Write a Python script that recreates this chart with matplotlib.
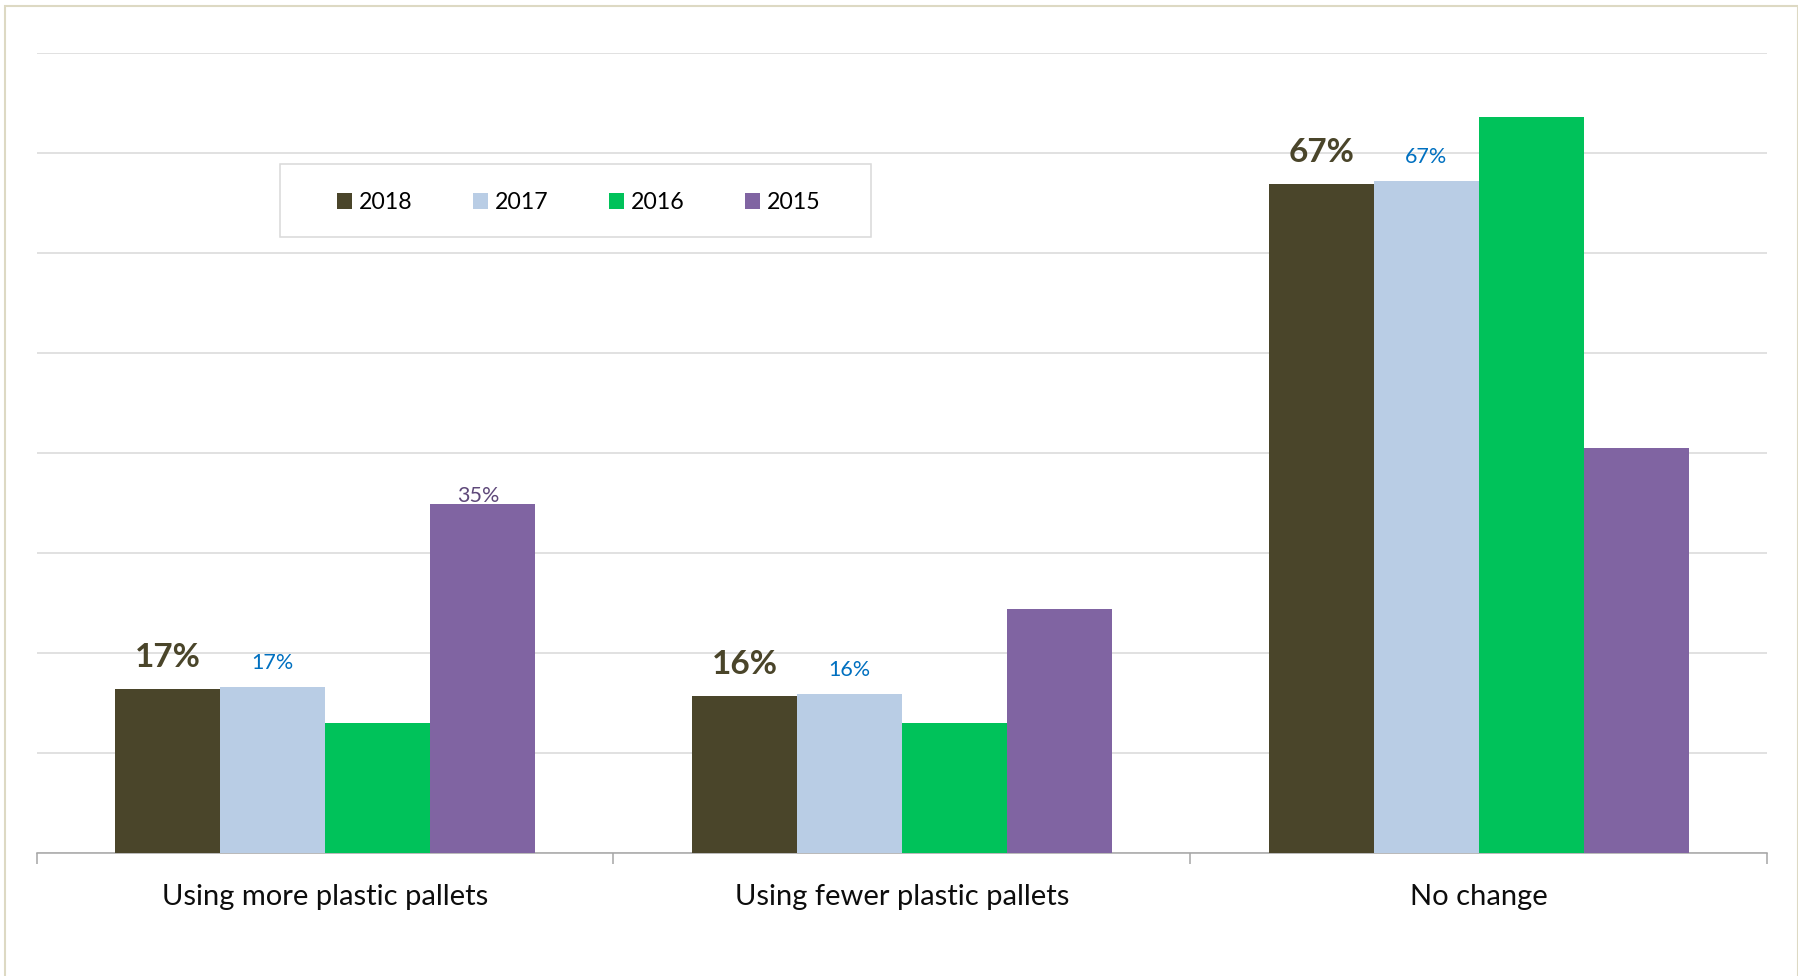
import matplotlib.pyplot as plt
import numpy as np
from matplotlib.patches import Rectangle

plt.rcParams['font.family'] = ['Lato', 'DejaVu Sans']

categories = ["Using more plastic pallets", "Using fewer plastic pallets", "No change"]
years      = ["2018", "2017", "2016", "2015"]

v2018 = [16.4, 15.7, 66.9]
v2017 = [16.6, 15.9, 67.2]
v2016 = [13.0, 13.0, 73.6]
v2015 = [34.9, 24.4, 40.5]

labels2018 = ["17%", "16%", "67%"]
labels2017 = ["17%", "16%", "67%"]
labels2015 = ["35%", "", ""]

COLORS = ["#4a452a", "#b9cde5", "#00c25a", "#8064a2"]

W, H, DPI = 1799, 976, 100
fig = plt.figure(figsize=(W / DPI, H / DPI), dpi=DPI)
fig.patch.set_facecolor("white")

# outer frame
fig.add_artist(Rectangle((5.5 / W, -0.01), (1798 - 5.5) / W, 1 - 6 / H + 0.01,
                         transform=fig.transFigure, fill=False,
                         edgecolor="#ddd9c3", linewidth=1.5))

ax = fig.add_axes([36.7 / W, 1 - 853 / H, (1767 - 36.7) / W, 800 / H])

x     = np.arange(len(categories))
width = 0.182
series = [v2018, v2017, v2016, v2015]
bars = []
for i, (vals, col, yr) in enumerate(zip(series, COLORS, years)):
    b = ax.bar(x + (i - 1.5) * width, vals, width, color=col, label=yr, zorder=3)
    bars.append(b)

ax.set_xlim(-0.5, 2.5)
ax.set_ylim(0, 80)
ax.set_yticks(np.arange(0, 81, 10))
ax.yaxis.grid(True, color="#d9d9d9", linewidth=1.1, zorder=0)
ax.tick_params(axis="y", left=False, labelleft=False)
for s in ["left", "right", "top"]:
    ax.spines[s].set_visible(False)
ax.spines["bottom"].set_color("#a6a6a6")
ax.spines["bottom"].set_linewidth(1.1)

ax.set_xticks(x)
ax.set_xticklabels(categories, fontsize=21, color="#0d0d0d")
ax.set_xticks([-0.5, 0.5, 1.5, 2.5], minor=True)
ax.tick_params(axis="x", which="major", length=0, pad=22.5)
ax.tick_params(axis="x", which="minor", length=8, color="#a6a6a6", width=1.1)

# data labels
for rect, txt in zip(bars[0], labels2018):
    ax.annotate(txt, (rect.get_x() + rect.get_width() / 2, rect.get_height()),
                xytext=(0, 15.8), textcoords="offset points", ha="center",
                va="baseline", fontsize=24, fontweight="bold", color="#4a452a")
for rect, txt in zip(bars[1], labels2017):
    ax.annotate(txt, (rect.get_x() + rect.get_width() / 2, rect.get_height()),
                xytext=(0, 13), textcoords="offset points", ha="center",
                va="baseline", fontsize=15.5, color="#0070c0")
for rect, txt in zip(bars[3], labels2015):
    if txt:
        ax.annotate(txt, (rect.get_x() + rect.get_width() / 2, rect.get_height()),
                    xytext=(-3, 1.4), textcoords="offset points", ha="center",
                    va="baseline", fontsize=15.5, color="#5f497a")

# legend
fig.add_artist(Rectangle((280 / W, 1 - 237 / H), (871 - 280) / W, 73 / H,
                         transform=fig.transFigure, facecolor="white",
                         edgecolor="#d9d9d9", linewidth=1.1, zorder=5))
leg = fig.legend(loc="center", bbox_to_anchor=(579 / W, 1 - 202.5 / H), ncol=4,
                 frameon=False, fontsize=16.7, handlelength=0.65, handleheight=0.65,
                 handletextpad=0.3, columnspacing=2.6, borderaxespad=0, borderpad=0)
leg.set_zorder(6)

fig.savefig("out.png", dpi=DPI, facecolor="white")
